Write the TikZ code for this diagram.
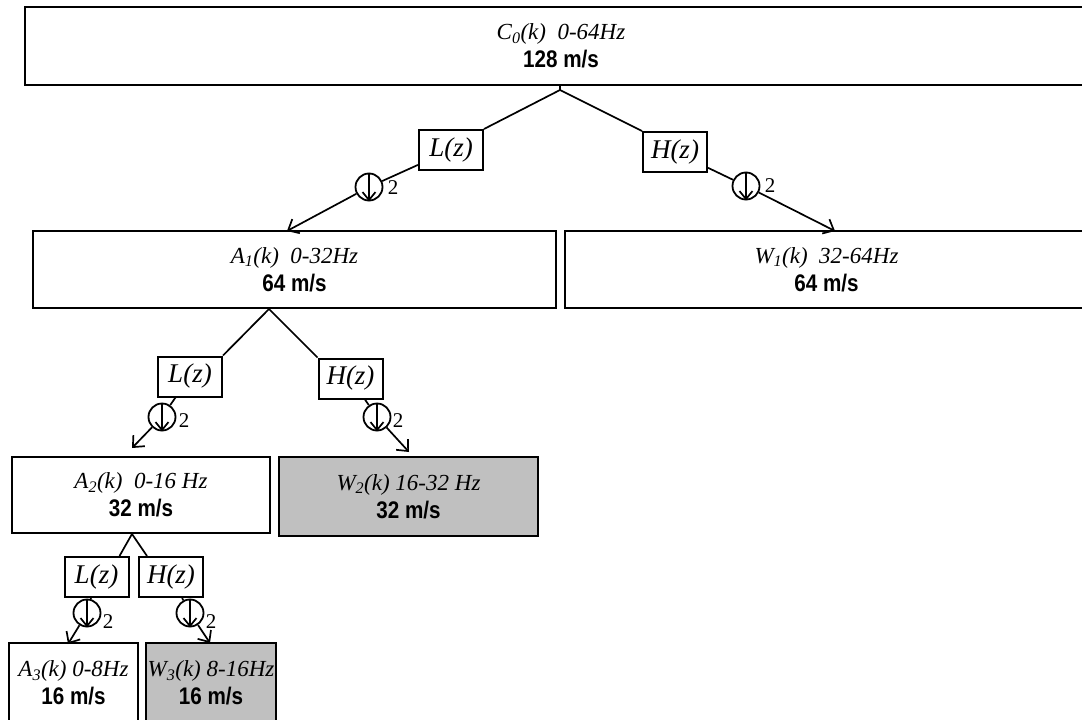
\documentclass[tikz,border=0pt]{standalone}
\usepackage{fontspec}
\setmainfont{Liberation Sans}
\newfontfamily\serifit{Liberation Serif}
\newfontfamily\ratefont[FakeStretch=0.86]{Liberation Sans}
\usetikzlibrary{arrows.meta}
\definecolor{bandgray}{RGB}{192,192,192}
% two-line caption of a sub-band box: italic name, bold rate
\newcommand\bandlabel[2]{{\serifit\itshape\fontsize{23}{28}\selectfont #1}\\{\ratefont\bfseries #2}}

\begin{document}
\begin{tikzpicture}[x=1pt,y=-1pt,
  band/.style={draw, line width=2.4pt, inner sep=0pt, align=center,
               font=\fontsize{24}{28}\selectfont},
  hiband/.style={band, fill=bandgray},
  filt/.style={draw, line width=2pt, inner sep=0pt, minimum width=64pt,
               minimum height=40pt, font=\serifit\itshape\fontsize{27}{30}\selectfont},
  dec/.style={draw, circle, line width=1.8pt, minimum size=27pt, inner sep=0pt},
  factor/.style={inner sep=0pt, font=\serifit\fontsize{21}{24}\selectfont},
  link/.style={line width=1.7pt},
  down/.style={link, -{Straight Barb[length=9pt,width=16pt,line width=1.7pt]}},
  decarrow/.style={line width=1.7pt, -{Straight Barb[length=8pt,width=13pt,line width=1.7pt]}},
]
\fill[white] (0,0) rectangle (1082,720);
\useasboundingbox (0,0) rectangle (1082,720);
\clip (0,0) rectangle (1082,720);

% ---- sub-band boxes ----
\node[band, minimum width=1072pt, minimum height=78pt] (c0) at (561,46)
  {\bandlabel{C\textsubscript{0}(k)\ \ 0-64Hz}{128 m/s}};
\node[band, minimum width=523pt, minimum height=77pt] (a1) at (294.5,269.5)
  {\bandlabel{A\textsubscript{1}(k)\ \ 0-32Hz}{64 m/s}};
\node[band, minimum width=523pt, minimum height=77pt] (w1) at (826.5,269.5)
  {\bandlabel{W\textsubscript{1}(k)\ \ 32-64Hz}{64 m/s}};
\node[band, minimum width=258pt, minimum height=76pt] (a2) at (141,495)
  {\bandlabel{A\textsubscript{2}(k)\ \ 0-16 Hz}{32 m/s}};
\node[hiband, minimum width=259pt, minimum height=79pt] (w2) at (408.5,496.5)
  {\bandlabel{W\textsubscript{2}(k) 16-32 Hz}{32 m/s}};
\node[band, minimum width=129pt, minimum height=80pt] (a3) at (73.5,683)
  {\bandlabel{A\textsubscript{3}(k) 0-8Hz}{16 m/s}};
\node[hiband, minimum width=130pt, minimum height=80pt] (w3) at (211,683)
  {\bandlabel{W\textsubscript{3}(k) 8-16Hz}{16 m/s}};

% ---- filters ----
\node[filt] (l1) at (451,150) {L(z)};
\node[filt] (h1) at (675,152) {H(z)};
\node[filt] (l2) at (190,376.5) {L(z)};
\node[filt] (h2) at (350.5,378.5) {H(z)};
\node[filt] (l3) at (96.5,577) {L(z)};
\node[filt] (h3) at (171,577) {H(z)};

% ---- decimators ----
\node[dec] (d1l) at (369,187) {};
\node[dec] (d1h) at (746,186) {};
\node[dec] (d2l) at (162,417) {};
\node[dec] (d2h) at (377,417) {};
\node[dec] (d3l) at (87,613) {};
\node[dec] (d3h) at (190,613) {};
\foreach \d in {d1l,d1h,d2l,d2h,d3l,d3h}
  \draw[decarrow] (\d.north) -- (\d.south);

\node[factor] (f1l) at (393,188) {2};
\node[factor] (f1h) at (770,186) {2};
\node[factor] (f2l) at (184,421) {2};
\node[factor] (f2h) at (398,421) {2};
\node[factor] (f3l) at (108,622) {2};
\node[factor] (f3h) at (211,622) {2};

% ---- branch points and arrow ends ----
\coordinate (p1) at (560,90);
\coordinate (p2) at (269,309);
\coordinate (p3) at (132,534);
\coordinate (t1l) at (287,231);
\coordinate (t1h) at (835,231);
\coordinate (t2l) at (132,448);
\coordinate (t2h) at (409,452);
\coordinate (t3l) at (68,644);
\coordinate (t3h) at (210,643);

% level 1
\draw[link] (p1 |- c0.south) -- (p1);
\draw[link] (l1.north east) -- (p1) -- (h1.north west);
\draw[link] (l1) -- (d1l);
\draw[down] (d1l) -- (t1l);
\draw[link] (h1) -- (d1h);
\draw[down] (d1h) -- (t1h);

% level 2
\draw[link] (l2.north east) -- (p2) -- (h2.north west);
\draw[link] (l2) -- (d2l);
\draw[down] (d2l) -- (t2l);
\draw[link] (h2) -- (d2h);
\draw[down] (d2h) -- (t2h);

% level 3
\draw[link] ([xshift=-10pt]l3.north east) -- (p3) -- ([xshift=9pt]h3.north west);
\draw[link] (l3) -- (d3l);
\draw[down] (d3l) -- (t3l);
\draw[link] (h3) -- (d3h);
\draw[down] (d3h) -- (t3h);
\end{tikzpicture}
\end{document}
